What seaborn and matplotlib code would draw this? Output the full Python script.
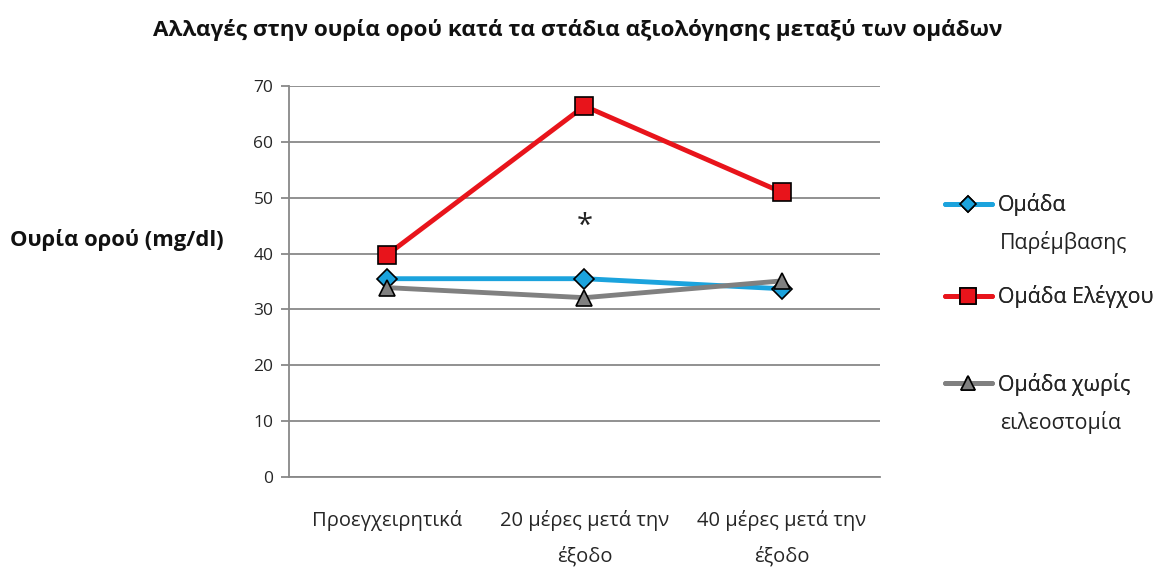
import matplotlib
matplotlib.use("Agg")
import matplotlib.pyplot as plt
import seaborn as sns
import pandas as pd
from matplotlib.lines import Line2D

stages = ["Προεγχειρητικά", "20 μέρες μετά την\nέξοδο", "40 μέρες μετά την\nέξοδο"]
series_names = ["Ομάδα Παρέμβασης", "Ομάδα Ελέγχου", "Ομάδα χωρίς ειλεοστομία"]
legend_first = ["Ομάδα", "Ομάδα Ελέγχου", "Ομάδα χωρίς"]
legend_second = ["Παρέμβασης", "", "ειλεοστομία"]
intervention = [35.5, 35.5, 33.7]
control = [39.8, 66.4, 51.0]
no_ileostomy = [33.9, 32.1, 35.1]
yticks = [0, 10, 20, 30, 40, 50, 60, 70]

colors = ["#1BA3DD", "#E8141B", "#808080"]
markers = ["D", "s", "^"]
msizes = [10, 13, 12]

rows = []
for name, vals in zip(series_names, [intervention, control, no_ileostomy]):
    for s, v in zip(stages, vals):
        rows.append({"stage": s, "group": name, "value": v})
df = pd.DataFrame(rows)

sns.set_style("white")
plt.rcParams["font.family"] = ["Open Sans", "DejaVu Sans"]

W, H = 1155, 573
fig = plt.figure(figsize=(11.55, 5.73), dpi=100)
ax = fig.add_axes([0.250, 0.1675, 0.512, 0.6825])

for name, c, m, ms in zip(series_names, colors, markers, msizes):
    sub = df[df["group"] == name]
    sns.lineplot(data=sub, x="stage", y="value", ax=ax, color=c, lw=3.5,
                 marker=m, markersize=ms, markeredgecolor="black",
                 markeredgewidth=1.2, sort=False, legend=False)

ax.set_xlim(-0.5, 2.5)
ax.set_ylim(0, 70)
ax.set_yticks(yticks)
ax.set_yticklabels([str(t) for t in yticks], fontsize=12.5)
ax.set_xticks([0, 1, 2])
ax.set_xticklabels(stages, fontsize=14.5, linespacing=2.0)
ax.set_xticks([-0.5, 0.5, 1.5, 2.5], minor=True)
ax.tick_params(axis="x", which="major", length=0, pad=24)
ax.tick_params(axis="x", which="minor", length=7, color="#888888", direction="out", width=1.3)
ax.tick_params(axis="y", length=6, color="#888888", direction="out", left=True, pad=5, width=1.3)
ax.yaxis.grid(True, color="#888888", lw=1.3)
ax.set_axisbelow(True)
for side in ["top", "right"]:
    ax.spines[side].set_visible(False)
for side in ["left", "bottom"]:
    ax.spines[side].set_color("#888888")
    ax.spines[side].set_linewidth(1.3)
ax.set_xlabel("")
ax.set_ylabel("")

ax.text(1, 44.8, "*", ha="center", va="center", fontsize=21, color="#222222")

fig.text(0.5, 1 - 30 / H, "Αλλαγές στην ουρία ορού κατά τα στάδια αξιολόγησης μεταξύ των ομάδων",
         ha="center", va="center", fontsize=16.2, fontweight="bold", color="#111111")
fig.text(10 / W, 1 - 240 / H, "Ουρία ορού (mg/dl)", ha="left", va="center",
         fontsize=15.8, fontweight="bold", color="#111111")

first_y = [205, 297, 384]
second_y = [243, None, 422]
lfs = 15.3
for c, m, ms, lab, lab2, y1, y2 in zip(colors, markers, msizes, legend_first,
                                       legend_second, first_y, second_y):
    h = Line2D([0], [0], color=c, lw=3.5, marker=m, markersize=ms * 0.85,
               markeredgecolor="black", markeredgewidth=1.2)
    leg = fig.legend([h], [lab], loc="center left", bbox_to_anchor=(945 / W, 1 - y1 / H),
                     frameon=False, fontsize=lfs, handlelength=2.2, handletextpad=0.3,
                     borderpad=0, borderaxespad=0)
    fig.add_artist(leg)
    if lab2:
        fig.text(1000 / W, 1 - y2 / H, lab2, ha="left", va="center", fontsize=lfs,
                 color="#222222")

fig.savefig("out.png", dpi=100)
